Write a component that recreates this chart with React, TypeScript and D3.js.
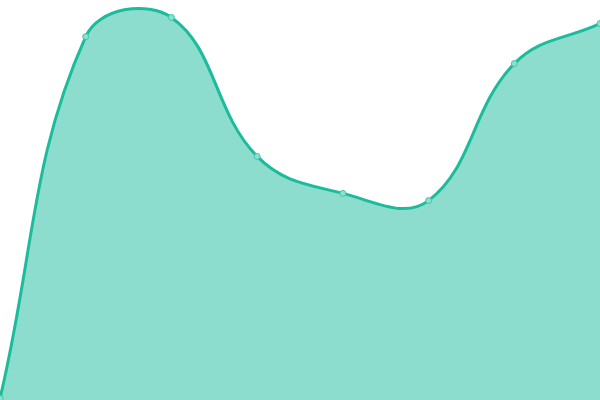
import React from "react";
import * as d3 from "d3";

const categories = ["1", "2", "3", "4", "5", "6", "7", "8"];
const values = [0.4, 90.85, 95.65, 60.9, 51.65, 49.85, 84.1, 94.1];

const W = 600;
const H = 400;
const TENSION = 0.4;

// Custom d3 curve reproducing a distance-weighted spline (tension 0.4),
// with control points capped to the plotting area.
class WeightedSpline {
  _context: any;
  _t: number;
  _line: number = NaN;
  _xs: number[] = [];
  _ys: number[] = [];
  constructor(context: any, t: number) {
    this._context = context;
    this._t = t;
  }
  areaStart() {
    this._line = 0;
  }
  areaEnd() {
    this._line = NaN;
  }
  lineStart() {
    this._xs = [];
    this._ys = [];
  }
  point(x: number, y: number) {
    this._xs.push(+x);
    this._ys.push(+y);
  }
  lineEnd() {
    const xs = this._xs;
    const ys = this._ys;
    const n = xs.length;
    const ctx = this._context;
    if (n) {
      if (this._line) ctx.lineTo(xs[0], ys[0]);
      else ctx.moveTo(xs[0], ys[0]);
      const cpPrev: [number, number][] = [];
      const cpNext: [number, number][] = [];
      for (let i = 0; i < n; i++) {
        const pi = i === 0 ? 0 : i - 1;
        const ni = Math.min(i + 1, n - 1);
        const px = xs[pi], py = ys[pi];
        const cx = xs[i], cy = ys[i];
        const nx = xs[ni], ny = ys[ni];
        const d01 = Math.hypot(cx - px, cy - py);
        const d12 = Math.hypot(nx - cx, ny - cy);
        let s01 = d01 / (d01 + d12);
        let s12 = d12 / (d01 + d12);
        if (isNaN(s01)) s01 = 0;
        if (isNaN(s12)) s12 = 0;
        const fa = this._t * s01;
        const fb = this._t * s12;
        const clampX = (v: number) => Math.max(0, Math.min(W, v));
        const clampY = (v: number) => Math.max(0, Math.min(H, v));
        cpPrev.push([clampX(cx - fa * (nx - px)), clampY(cy - fa * (ny - py))]);
        cpNext.push([clampX(cx + fb * (nx - px)), clampY(cy + fb * (ny - py))]);
      }
      for (let i = 0; i < n - 1; i++) {
        ctx.bezierCurveTo(
          cpNext[i][0],
          cpNext[i][1],
          cpPrev[i + 1][0],
          cpPrev[i + 1][1],
          xs[i + 1],
          ys[i + 1]
        );
      }
      if (this._line || (this._line !== 0 && n === 1)) ctx.closePath();
    }
    this._line = 1 - this._line;
  }
}

const curveWeighted = ((context: any) => new WeightedSpline(context, TENSION)) as any;

export default function App() {
  const x = d3.scalePoint<string>().domain(categories).range([0, W]);
  const y = d3.scaleLinear().domain([0, 100]).range([H, 0]);
  const area = d3
    .area<number>()
    .x((_, i) => x(categories[i])!)
    .y0(H)
    .y1((d) => y(d))
    .curve(curveWeighted);
  const line = d3
    .line<number>()
    .x((_, i) => x(categories[i])!)
    .y((d) => y(d))
    .curve(curveWeighted);
  return (
    <svg
      width={W}
      height={H}
      style={{ position: "absolute", left: 0, top: 0, display: "block" }}
    >
      <path d={area(values)!} fill="rgba(26,188,156,0.5)" />
      <path d={line(values)!} fill="none" stroke="#1abc9c" strokeWidth={3} />
      {values.map((v, i) => (
        <circle
          key={i}
          cx={x(categories[i])}
          cy={y(v)}
          r={3}
          fill="#8ce0cf"
          stroke="#3cc8aa"
          strokeWidth={1}
        />
      ))}
    </svg>
  );
}
